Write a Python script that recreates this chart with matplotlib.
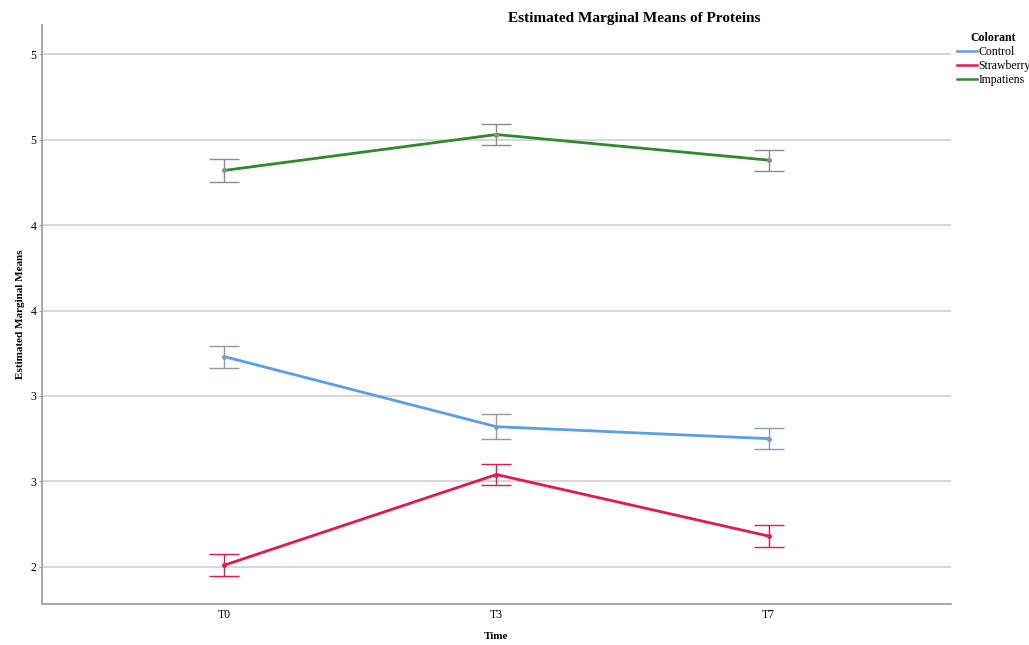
import matplotlib.pyplot as plt

plt.rcParams['font.family'] = ['Liberation Serif', 'DejaVu Serif']

# Estimated marginal means of proteins by colorant and storage time
times = ["T0", "T3", "T7"]
control = [3.23, 2.82, 2.75]
strawberry = [2.01, 2.54, 2.18]
impatiens = [4.32, 4.53, 4.38]
control_err = [0.065, 0.072, 0.062]
strawberry_err = [0.065, 0.062, 0.065]
impatiens_err = [0.068, 0.064, 0.062]

y_ticks = [2.0, 2.5, 3.0, 3.5, 4.0, 4.5, 5.0]
y_tick_labels = ["2", "3", "3", "4", "4", "5", "5"]

series = [
    ("Control", control, control_err, "#5b9ee8", "#8a9bb0"),
    ("Strawberry", strawberry, strawberry_err, "#e5194f", "#e5194f"),
    ("Impatiens", impatiens, impatiens_err, "#2f8a2f", "#8c8c8c"),
]

fig = plt.figure(figsize=(10.29, 6.45), dpi=100)
ax = fig.add_axes([0.041, 0.064, 0.883, 0.897])

x = list(range(len(times)))
handles = []
for name, vals, err, color, ecolor in series:
    ax.errorbar(x, vals, yerr=err, fmt="none", ecolor=ecolor, elinewidth=1.0,
                capsize=11, capthick=1.0, zorder=3)
    line, = ax.plot(x, vals, color=color, lw=2.0, label=name, zorder=4,
                    marker="o", markersize=2.5, markerfacecolor=ecolor,
                    markeredgecolor=ecolor)
    handles.append(line)

ax.set_xlim(-0.67, 2.67)
ax.set_ylim(1.784, 5.17)
ax.set_xticks(x)
ax.set_xticklabels(times, fontsize=8.5)
ax.set_yticks(y_ticks)
ax.set_yticklabels(y_tick_labels, fontsize=8.5)

ax.yaxis.grid(True, color="#d4d4d4", lw=1.3)
ax.set_axisbelow(True)
for side in ("top", "right"):
    ax.spines[side].set_visible(False)
for side in ("left", "bottom"):
    ax.spines[side].set_color("#9a9a9a")
    ax.spines[side].set_linewidth(1.2)
ax.tick_params(axis="x", length=0, pad=4)
ax.tick_params(axis="y", length=2, color="#9a9a9a", pad=2)

ax.set_xlabel("Time", fontsize=8, fontweight="bold", labelpad=8)
ax.set_ylabel("Estimated Marginal Means", fontsize=8, fontweight="bold", labelpad=4)
fig.text(0.616, 0.972, "Estimated Marginal Means of Proteins", ha="center",
         va="center", fontsize=11, fontweight="bold")

leg = fig.legend(handles=handles, labels=[s[0] for s in series],
                 title="Colorant", loc="upper left", bbox_to_anchor=(0.925, 0.958),
                 frameon=False, fontsize=8.5, title_fontsize=8.5,
                 handlelength=1.7, handletextpad=0.15, labelspacing=0.18,
                 borderaxespad=0)
leg.get_title().set_fontweight("bold")
for h in leg.legend_handles:
    h.set_marker("")
    h.set_linewidth(1.8)

fig.savefig("out.png", dpi=100)
